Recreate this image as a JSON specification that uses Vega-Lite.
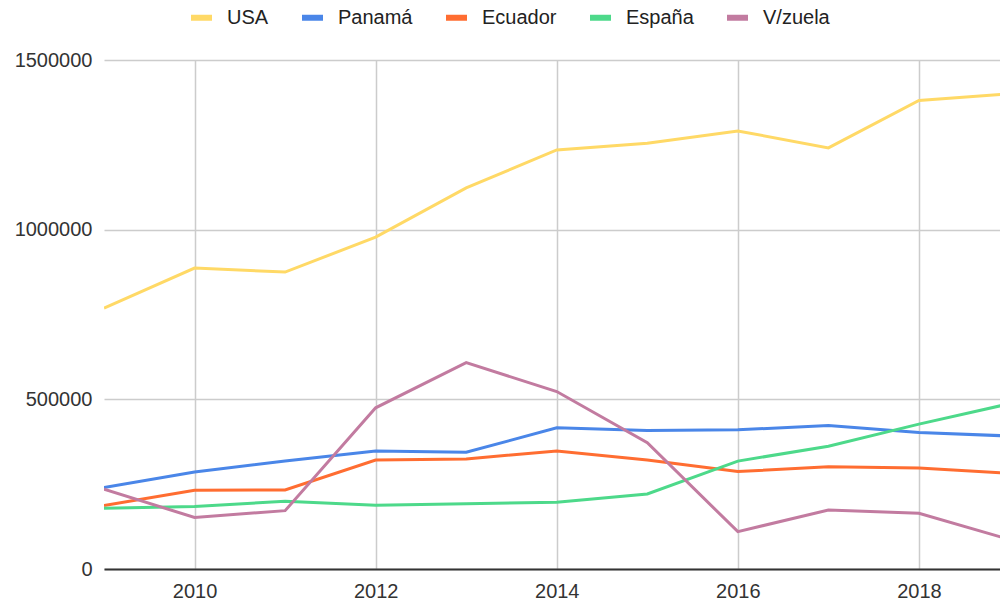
{
  "$schema": "https://vega.github.io/schema/vega-lite/v6.json",
  "width": 896,
  "height": 509,
  "autosize": {"type": "none"},
  "padding": {"left": 104, "top": 60, "right": 0, "bottom": 34},
  "background": "white",
  "config": {
    "view": {"stroke": null},
    "font": "Liberation Sans"
  },
  "data": {
    "values": [
      {"year": 2009, "country": "USA", "value": 769000},
      {"year": 2010, "country": "USA", "value": 887000},
      {"year": 2011, "country": "USA", "value": 875000},
      {"year": 2012, "country": "USA", "value": 978000},
      {"year": 2013, "country": "USA", "value": 1123000},
      {"year": 2014, "country": "USA", "value": 1235000},
      {"year": 2015, "country": "USA", "value": 1255000},
      {"year": 2016, "country": "USA", "value": 1291000},
      {"year": 2017, "country": "USA", "value": 1241000},
      {"year": 2018, "country": "USA", "value": 1381000},
      {"year": 2019, "country": "USA", "value": 1400000},
      {"year": 2009, "country": "Panamá", "value": 240000},
      {"year": 2010, "country": "Panamá", "value": 286000},
      {"year": 2011, "country": "Panamá", "value": 318000},
      {"year": 2012, "country": "Panamá", "value": 348000},
      {"year": 2013, "country": "Panamá", "value": 344000},
      {"year": 2014, "country": "Panamá", "value": 416000},
      {"year": 2015, "country": "Panamá", "value": 408000},
      {"year": 2016, "country": "Panamá", "value": 410000},
      {"year": 2017, "country": "Panamá", "value": 423000},
      {"year": 2018, "country": "Panamá", "value": 402000},
      {"year": 2019, "country": "Panamá", "value": 392000},
      {"year": 2009, "country": "Ecuador", "value": 187000},
      {"year": 2010, "country": "Ecuador", "value": 232000},
      {"year": 2011, "country": "Ecuador", "value": 233000},
      {"year": 2012, "country": "Ecuador", "value": 321000},
      {"year": 2013, "country": "Ecuador", "value": 324000},
      {"year": 2014, "country": "Ecuador", "value": 348000},
      {"year": 2015, "country": "Ecuador", "value": 321000},
      {"year": 2016, "country": "Ecuador", "value": 287000},
      {"year": 2017, "country": "Ecuador", "value": 301000},
      {"year": 2018, "country": "Ecuador", "value": 298000},
      {"year": 2019, "country": "Ecuador", "value": 282000},
      {"year": 2009, "country": "España", "value": 179000},
      {"year": 2010, "country": "España", "value": 184000},
      {"year": 2011, "country": "España", "value": 200000},
      {"year": 2012, "country": "España", "value": 188000},
      {"year": 2013, "country": "España", "value": 192000},
      {"year": 2014, "country": "España", "value": 197000},
      {"year": 2015, "country": "España", "value": 221000},
      {"year": 2016, "country": "España", "value": 318000},
      {"year": 2017, "country": "España", "value": 362000},
      {"year": 2018, "country": "España", "value": 427000},
      {"year": 2019, "country": "España", "value": 487000},
      {"year": 2009, "country": "V/zuela", "value": 235000},
      {"year": 2010, "country": "V/zuela", "value": 152000},
      {"year": 2011, "country": "V/zuela", "value": 172000},
      {"year": 2012, "country": "V/zuela", "value": 475000},
      {"year": 2013, "country": "V/zuela", "value": 608000},
      {"year": 2014, "country": "V/zuela", "value": 523000},
      {"year": 2015, "country": "V/zuela", "value": 372000},
      {"year": 2016, "country": "V/zuela", "value": 110000},
      {"year": 2017, "country": "V/zuela", "value": 174000},
      {"year": 2018, "country": "V/zuela", "value": 164000},
      {"year": 2019, "country": "V/zuela", "value": 87000}
    ]
  },
  "mark": {"type": "line", "strokeWidth": 3, "clip": true, "interpolate": "linear"},
  "encoding": {
    "x": {
      "field": "year",
      "type": "quantitative",
      "scale": {"domain": [2009, 2018.895], "nice": false, "zero": false},
      "axis": {
        "title": null,
        "values": [2010, 2012, 2014, 2016, 2018],
        "format": "d",
        "ticks": false,
        "labelPadding": 12,
        "labelFontSize": 20,
        "labelFont": "Liberation Sans",
        "labelColor": "#333",
        "grid": true,
        "gridColor": "#cccccc",
        "gridWidth": 1.5,
        "domain": true,
        "domainColor": "#333333",
        "domainWidth": 2
      }
    },
    "y": {
      "field": "value",
      "type": "quantitative",
      "scale": {"domain": [0, 1500000], "nice": false},
      "axis": {
        "title": null,
        "values": [0, 500000, 1000000, 1500000],
        "format": "d",
        "ticks": false,
        "domain": false,
        "labelPadding": 12,
        "labelFontSize": 20,
        "labelFont": "Liberation Sans",
        "labelColor": "#333",
        "grid": true,
        "gridColor": "#cccccc",
        "gridWidth": 1.5
      }
    },
    "color": {
      "field": "country",
      "type": "nominal",
      "scale": {
        "domain": ["USA", "Panamá", "Ecuador", "España", "V/zuela"],
        "range": ["#FFD966", "#4A86E8", "#FF6D31", "#4DD98A", "#C27BA0"]
      },
      "legend": {
        "title": null,
        "orient": "none",
        "direction": "horizontal",
        "legendX": 84,
        "legendY": -56,
        "padding": 0,
        "symbolType": "stroke",
        "symbolSize": 441,
        "symbolStrokeWidth": 6,
        "labelFontSize": 20,
        "labelFont": "Liberation Sans",
        "labelColor": "#222",
        "labelOffset": 12,
        "columnPadding": 21
      }
    }
  }
}
